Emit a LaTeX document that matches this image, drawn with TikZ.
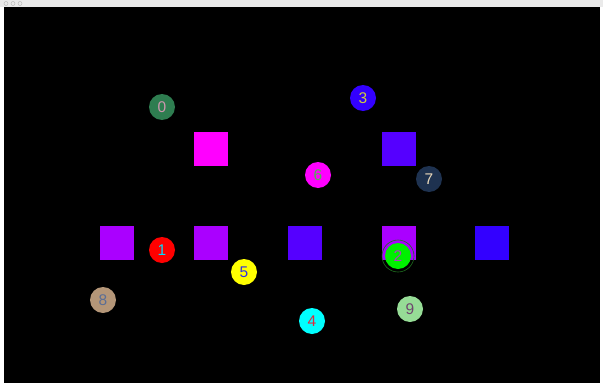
\documentclass[tikz,border=0pt]{standalone}
\usepackage{fontspec}
\setsansfont{Liberation Sans}
\usepackage{xcolor}
\usetikzlibrary{positioning}

\definecolor{bar}{RGB}{234,234,234}
\definecolor{violA}{RGB}{170,0,255}
\definecolor{violB}{RGB}{85,0,255}
\definecolor{violC}{RGB}{51,0,255}
\definecolor{magA}{RGB}{255,0,255}

\begin{document}
\begin{tikzpicture}[
  x=1pt, y=-1pt,
  font=\sffamily\fontsize{15.5}{15.5}\selectfont,
  sq/.style={rectangle, minimum size=34pt, inner sep=0pt},
  ball/.style={circle, minimum size=26pt, inner sep=0pt},
  btn/.style={circle, draw=gray!60, minimum size=4pt, inner sep=0pt}]
  \useasboundingbox (0,0) rectangle (603,383);
  % window frame
  \fill[white] (0,0) rectangle (603,383);
  \fill[bar] (0,0) rectangle (603,7);
  \fill[black] (4,7) rectangle (600,383);
  \node[btn] (b1) at (6,3.5) {};
  \node[btn] (b2) at (13,3.5) {};
  \node[btn] (b3) at (20,3.5) {};
  % squares, top row
  \node[sq, fill=magA]  (s0) at (210.5,149) {};
  \node[sq, fill=violB] (s1) at (398.5,149) {};
  % squares, lower row
  \node[sq, fill=violA] (s2) at (116.5,243) {};
  \node[sq, fill=violA] (s3) at (210.5,243) {};
  \node[sq, fill=violB] (s4) at (304.5,243) {};
  \node[sq, fill=violA] (s5) at (398.5,243) {};
  \node[sq, fill=violC] (s6) at (492,243) {};
  % balls
  \node[ball, fill={rgb,255:red,46;green,125;blue,80}, text={rgb,255:red,205;green,150;blue,175}] (n0) at (162,107) {0};
  \node[ball, fill={rgb,255:red,255;green,0;blue,0}, text={rgb,255:red,0;green,220;blue,255}] (n1) at (162,250) {1};
  \node[circle, draw={rgb,255:red,30;green,110;blue,30}, line width=0.6pt, minimum size=32pt, inner sep=0pt] (r2) at (398,256) {};
  \node[ball, fill={rgb,255:red,0;green,240;blue,0}, text={rgb,255:red,175;green,60;blue,195}] (n2) at (398,256) {2};
  \node[ball, fill={rgb,255:red,51;green,0;blue,255}, text={rgb,255:red,205;green,205;blue,60}] (n3) at (363,98) {3};
  \node[ball, fill={rgb,255:red,0;green,255;blue,255}, text={rgb,255:red,225;green,40;blue,60}] (n4) at (312,321) {4};
  \node[ball, fill={rgb,255:red,255;green,255;blue,0}, text={rgb,255:red,50;green,50;blue,230}] (n5) at (244,272) {5};
  \node[ball, fill={rgb,255:red,255;green,0;blue,255}, text={rgb,255:red,80;green,180;blue,80}] (n6) at (318,175) {6};
  \node[ball, fill={rgb,255:red,30;green,50;blue,80}, text={rgb,255:red,232;green,215;blue,185}] (n7) at (429,179) {7};
  \node[ball, fill={rgb,255:red,180;green,150;blue,120}, text={rgb,255:red,90;green,110;blue,150}] (n8) at (103,300) {8};
  \node[ball, fill={rgb,255:red,150;green,220;blue,150}, text={rgb,255:red,110;green,70;blue,110}] (n9) at (410,309) {9};
\end{tikzpicture}
\end{document}
